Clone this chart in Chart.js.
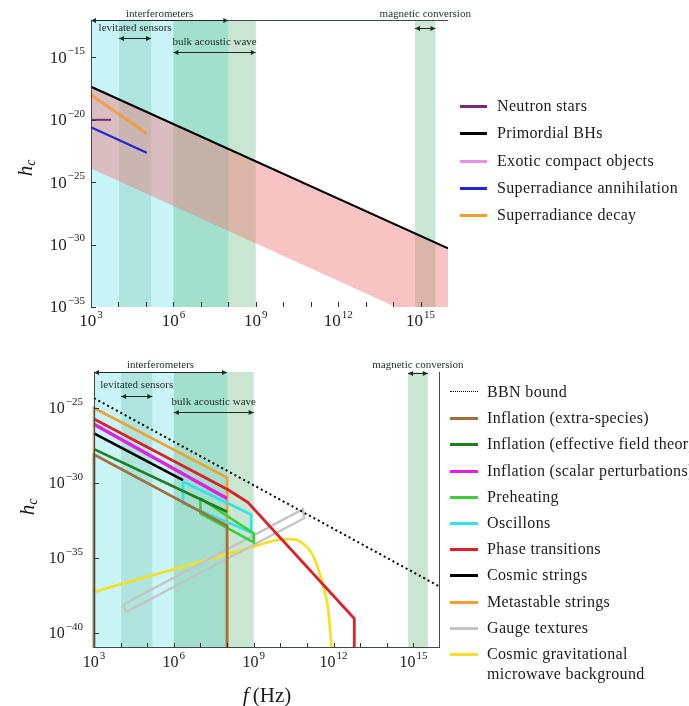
<!DOCTYPE html>
<html>
<head>
<meta charset="utf-8">
<script src="https://cdn.jsdelivr.net/npm/chart.js@4.4.1/dist/chart.umd.min.js"></script>
<style>
  html, body { margin: 0; padding: 0; background: #fff; width: 689px; height: 706px; overflow: hidden; position: relative; }
  body { font-family: "Liberation Serif", "DejaVu Serif", serif; color: #1a1a1a; }
  .panel { position: absolute; left: 0; width: 689px; }
  #panelTop { top: 0; height: 340px; }
  #panelBot { top: 340px; height: 366px; }
  canvas { display: block; position: absolute; left: 0; top: 0; }
  .legend { position: absolute; left: 0; top: 0; width: 689px; height: 100%; pointer-events: none; }
  .item { position: absolute; left: 0; width: 689px; height: 20px; }
  .sw { position: absolute; top: 9px; height: 3px; }
  .tx { position: absolute; top: 0; line-height: 20px; font-size: 16px; letter-spacing: 0.35px; white-space: pre; }
  .ytitle { position: absolute; font-size: 21px; transform: translate(-50%, -50%) rotate(-90deg); white-space: nowrap; }
  .ytitle sub { font-size: 14px; font-style: italic; vertical-align: -3px; }
  .xtitle { position: absolute; font-size: 21px; transform: translate(-50%, -50%); white-space: nowrap; }
</style>
</head>
<body>
<div class="panel" id="panelTop">
  <canvas id="chartTop" width="689" height="340"></canvas>
  <div class="legend" id="legendTop"></div>
  <div class="ytitle" style="left:26px; top:168px;"><i>h</i><sub>c</sub></div>
</div>
<div class="panel" id="panelBot">
  <canvas id="chartBot" width="689" height="366"></canvas>
  <div class="legend" id="legendBot"></div>
  <div class="ytitle" style="left:28px; top:167px;"><i>h</i><sub>c</sub></div>
  <div class="xtitle" style="left:267px; top:355px;"><i>f</i>&#8201;(Hz)</div>
</div>

<script>
// ---------- detector frequency bands (Hz) ----------
const bandNames = ['interferometers', 'levitated sensors', 'bulk acoustic wave', 'magnetic conversion'];
const bandFrom  = [1e3, 1.05e4, 1e6, 6.3e14];
const bandTo    = [1e8, 1.55e5, 1e9, 3.5e15];
const bandFill  = ['rgb(201,245,248)', 'rgba(121,195,168,0.32)', 'rgba(72,172,105,0.30)', 'rgba(72,172,105,0.30)'];

// ---------- axis ticks (powers of ten) ----------
const xTickExponents    = [3, 4, 5, 6, 7, 8, 9, 10, 11, 12, 13, 14, 15, 16];
const xLabelExponents   = [3, 6, 9, 12, 15];
const yTopTickExponents = [-35, -30, -25, -20, -15];
const yBotTickExponents = [-40, -35, -30, -25];

// ---------- upper panel: compact-object sources, [f (Hz), h_c] ----------
const neutronStars              = [[1e3, 1e-20], [5.4e3, 1e-20]];
const primordialBHs             = [[1e3, 4.5e-18], [1e16, 5e-31]];
const primordialBHsFloor        = [[1e3, 1.25e-24], [1e16, 1.25e-37]];
const exoticCompactObjects      = [];
const superradianceAnnihilation = [[1e3, 2.5e-21], [1.07e5, 2.3e-23]];
const superradianceDecay        = [[1e3, 1e-18], [1.07e5, 8e-22]];

// ---------- lower panel: cosmological sources, [f (Hz), h_c] ----------
const bbnBound          = [[1e3, 4.5e-25], [1e16, 1.2e-37]];
const inflationExtra    = [[1e3, 1e-41], [1e3, 7.9e-29], [1e8, 1.4e-33], [1e8, 1e-41]];
const inflationEFT      = [[1e3, 1.8e-28], [1e8, 1.2e-32]];
const inflationScalar   = [[1e3, 8.1e-27], [1e8, 9.3e-32]];
const preheating        = [[1e7, 9.3e-32], [1e9, 4.3e-34], [1e9, 1.1e-34], [1e7, 9.3e-33], [1e7, 9.3e-32]];
const oscillons         = [[2.2e6, 1.2e-30], [8e8, 7.9e-33], [8e8, 5e-34], [2.2e6, 4.5e-32], [2.2e6, 1.2e-30]];
const phaseTransitions  = [[1e3, 1.86e-26], [1.05e8, 3.7e-31], [6e8, 5.2e-32], [6e12, 9.3e-40], [6e12, 1e-41]];
const cosmicStrings     = [[1e3, 2e-27], [2.2e6, 1.55e-30]];
const metastableStrings = [[1e3, 1e-41], [1e3, 1e-25], [1e8, 2.3e-30], [1e8, 1e-41]];
const gaugeTextures     = [[1.26e4, 7.9e-39], [7.1e10, 1.78e-32], [7.9e10, 4.5e-33], [1.58e4, 2.5e-39], [1.26e4, 7.9e-39]];
const cgmb              = [[1e3, 5.5e-38], [1e9, 5.8e-35], [7.9e9, 1.6e-34], [2e10, 1.8e-34], [4.1e10, 1.6e-34],
                           [8.9e10, 6.3e-35], [1.58e11, 1.8e-35], [2.5e11, 2.5e-36], [4.17e11, 1.2e-37],
                           [6.3e11, 3.4e-39], [8.5e11, 1e-41]];

const SERIF = '"Liberation Serif", "DejaVu Serif", serif';
const toXY = pts => pts.map(p => ({ x: p[0], y: p[1] }));
const expText = e => String(e).replace('-', '\u2212');

const topSeries = [
  { label: 'Neutron stars',              color: '#7b2a7b', data: neutronStars,              width: 2 },
  { label: 'Primordial BHs',             color: '#000000', data: primordialBHs,             width: 2.2 },
  { label: 'Exotic compact objects',     color: '#ee8ee8', data: exoticCompactObjects,      width: 2 },
  { label: 'Superradiance annihilation', color: '#2424d8', data: superradianceAnnihilation, width: 2.2 },
  { label: 'Superradiance decay',        color: '#f09a30', data: superradianceDecay,        width: 3, line: 'rgba(240,154,48,0.8)' }
];

const botSeries = [
  { label: 'BBN bound',                          color: '#000000', data: bbnBound,          width: 2, dash: [2, 3] },
  { label: 'Inflation (extra-species)',          color: '#a0703c', data: inflationExtra,    width: 2.6 },
  { label: 'Inflation (effective field theory)', color: '#1e7d1e', data: inflationEFT,      width: 2.6 },
  { label: 'Inflation (scalar perturbations)',   color: '#e020e0', data: inflationScalar,   width: 3.4 },
  { label: 'Preheating',                         color: '#3ccf3c', data: preheating,        width: 2.6 },
  { label: 'Oscillons',                          color: '#32e2ea', data: oscillons,         width: 2.6 },
  { label: 'Phase transitions',                  color: '#dc2028', data: phaseTransitions,  width: 2.8 },
  { label: 'Cosmic strings',                     color: '#000000', data: cosmicStrings,     width: 2.6 },
  { label: 'Metastable strings',                 color: '#f0a035', data: metastableStrings, width: 2.6 },
  { label: 'Gauge textures',                     color: '#c4c4c4', data: gaugeTextures,     width: 2.4 },
  { label: 'Cosmic gravitational\nmicrowave background', color: '#f4e02a', data: cgmb,      width: 2.8, smooth: true }
];

// "10" followed by a raised exponent; anchor 'center' or 'right'
function drawPow10(ctx, e, x, y, size, anchor) {
  const base = '10', sup = expText(e);
  const supSize = Math.round(size * 0.66);
  ctx.font = size + 'px ' + SERIF;
  const wb = ctx.measureText(base).width;
  ctx.font = supSize + 'px ' + SERIF;
  const ws = ctx.measureText(sup).width;
  const total = wb + ws + 1;
  const left = anchor === 'center' ? x - total / 2 : x - total;
  ctx.textAlign = 'left';
  ctx.textBaseline = 'middle';
  ctx.font = size + 'px ' + SERIF;
  ctx.fillText(base, left, y);
  ctx.font = supSize + 'px ' + SERIF;
  ctx.fillText(sup, left + wb + 1, y - size * 0.42);
}

// Band shading underneath; arrows, names, frame, tick marks and tick labels above.
function detectorPlugin(opt) {
  return {
    id: 'detectorBands',
    beforeDraw(chart) {
      const { ctx, chartArea: a, scales: { x } } = chart;
      ctx.save();
      bandNames.forEach((n, i) => {
        const x0 = Math.max(a.left, x.getPixelForValue(bandFrom[i]));
        const x1 = Math.min(a.right, x.getPixelForValue(bandTo[i]));
        ctx.fillStyle = bandFill[i];
        ctx.fillRect(x0, a.top, x1 - x0, a.bottom - a.top);
      });
      ctx.restore();
    },
    afterDraw(chart) {
      const { ctx, chartArea: a, scales: { x, y } } = chart;
      ctx.save();
      // frame
      ctx.strokeStyle = '#3c4a4a';
      ctx.lineWidth = 1;
      ctx.beginPath();
      opt.frame.forEach(side => {
        if (side === 'left')   { ctx.moveTo(a.left + 0.5, a.top);  ctx.lineTo(a.left + 0.5, a.bottom); }
        if (side === 'right')  { ctx.moveTo(a.right - 0.5, a.top); ctx.lineTo(a.right - 0.5, a.bottom); }
        if (side === 'top')    { ctx.moveTo(a.left, a.top + 0.5);  ctx.lineTo(a.right, a.top + 0.5); }
        if (side === 'bottom') { ctx.moveTo(a.left, a.bottom - 0.5); ctx.lineTo(a.right, a.bottom - 0.5); }
      });
      ctx.stroke();
      // inward tick marks
      ctx.strokeStyle = '#333';
      ctx.beginPath();
      xTickExponents.forEach(e => {
        const px = Math.round(x.getPixelForValue(Math.pow(10, e))) + 0.5;
        if (px > a.left + 2 && px < a.right - 2) { ctx.moveTo(px, a.bottom); ctx.lineTo(px, a.bottom - 5); }
      });
      opt.yTicks.forEach(e => {
        const py = Math.round(y.getPixelForValue(Math.pow(10, e))) + 0.5;
        ctx.moveTo(a.left, py); ctx.lineTo(a.left + 5, py);
      });
      ctx.stroke();
      // tick labels
      ctx.fillStyle = '#222';
      xLabelExponents.forEach(e => {
        drawPow10(ctx, e, x.getPixelForValue(Math.pow(10, e)), a.bottom + opt.xLabelDy, opt.tickSize, 'center');
      });
      opt.yTicks.forEach(e => {
        drawPow10(ctx, e, a.left - opt.yPad, y.getPixelForValue(Math.pow(10, e)) + 1, opt.tickSize, 'right');
      });
      // band arrows and names
      ctx.fillStyle = '#1e2a2a';
      ctx.strokeStyle = '#1e2a2a';
      ctx.font = '11px ' + SERIF;
      ctx.textAlign = 'center';
      ctx.textBaseline = 'middle';
      bandNames.forEach((n, i) => {
        const x0 = x.getPixelForValue(bandFrom[i]);
        const x1 = x.getPixelForValue(bandTo[i]);
        const ya = Math.round(a.top + opt.arrowDy[i]) + 0.5;
        ctx.beginPath();
        ctx.moveTo(x0, ya); ctx.lineTo(x1, ya);
        ctx.stroke();
        [[x0, 1], [x1, -1]].forEach(([px, d]) => {
          ctx.beginPath();
          ctx.moveTo(px, ya);
          ctx.lineTo(px + d * 5, ya - 2.5);
          ctx.lineTo(px + d * 5, ya + 2.5);
          ctx.closePath();
          ctx.fill();
        });
        const xc = x.getPixelForValue(Math.sqrt(bandFrom[i] * bandTo[i]));
        ctx.fillText(n, xc, a.top + opt.labelDy[i]);
      });
      ctx.restore();
    }
  };
}

function makeChart(id, series, opt) {
  const datasets = series.map(s => ({
    label: s.label,
    data: toXY(s.data),
    borderColor: s.line || s.color,
    borderWidth: s.width,
    borderDash: s.dash || [],
    fill: false,
    pointRadius: 0,
    cubicInterpolationMode: s.smooth ? 'monotone' : 'default',
    clip: { left: 3, top: 0, right: 0, bottom: 0 },
    order: 1
  }));
  (opt.extra || []).forEach(d => datasets.push(d));
  return new Chart(document.getElementById(id), {
    type: 'line',
    data: { datasets },
    options: {
      responsive: false,
      animation: false,
      devicePixelRatio: 1,
      events: [],
      layout: { padding: opt.padding },
      plugins: {
        legend: { display: false },
        tooltip: { enabled: false },
        filler: { drawTime: 'beforeDatasetsDraw' }
      },
      elements: { line: { tension: 0, borderCapStyle: 'butt', borderJoinStyle: 'miter' } },
      scales: {
        x: {
          type: 'logarithmic', position: 'bottom', min: 1e3, max: 1e16,
          afterBuildTicks: s => { s.ticks = xTickExponents.map(e => ({ value: Math.pow(10, e) })); },
          afterFit: s => { s.height = opt.xAxisHeight; },
          grid: { display: false, drawTicks: false },
          border: { display: false },
          ticks: { display: false }
        },
        y: {
          type: 'logarithmic', position: 'left', min: opt.yMin, max: opt.yMax,
          afterBuildTicks: s => { s.ticks = opt.yTicks.map(e => ({ value: Math.pow(10, e) })); },
          afterFit: s => { s.width = opt.yAxisWidth; },
          grid: { display: false, drawTicks: false },
          border: { display: false },
          ticks: { display: false }
        }
      }
    },
    plugins: [detectorPlugin(opt)]
  });
}

// Upper panel: primordial-BH band shaded between its line and the lower envelope
makeChart('chartTop', topSeries, {
  padding: { left: 0, top: 20, right: 241, bottom: 0 },
  yAxisWidth: 91, xAxisHeight: 33, xLabelDy: 15, yPad: 6, tickSize: 17,
  yMin: 1e-35, yMax: 1e-12, yTicks: yTopTickExponents,
  frame: ['left', 'top'],
  arrowDy: [0, 18, 32, 8], labelDy: [-6, 8, 22, -6],
  extra: [{
    label: 'primordial BH envelope',
    data: toXY(primordialBHsFloor),
    borderWidth: 0, pointRadius: 0,
    backgroundColor: 'rgba(238,122,122,0.45)',
    fill: 1, order: 5
  }]
});

makeChart('chartBot', botSeries, {
  padding: { left: 0, top: 32, right: 249, bottom: 0 },
  yAxisWidth: 94, xAxisHeight: 58, xLabelDy: 15, yPad: 11, tickSize: 16,
  yMin: 1e-41, yMax: 2.5e-23, yTicks: yBotTickExponents,
  frame: ['left', 'right', 'bottom'],
  arrowDy: [0, 24, 40, 1], labelDy: [-7, 13, 30, -7]
});

// HTML legends built from the same series lists
function buildLegend(elId, series, o) {
  const el = document.getElementById(elId);
  series.forEach((s, i) => {
    const row = document.createElement('div');
    row.className = 'item';
    row.style.top = (o.y0 + i * o.dy - 10) + 'px';
    const sw = document.createElement('span');
    sw.className = 'sw';
    sw.style.left = o.swLeft + 'px';
    sw.style.width = o.swWidth + 'px';
    if (s.dash) {
      sw.style.height = '0';
      sw.style.top = '9px';
      sw.style.borderTop = '1.5px dotted ' + s.color;
    } else {
      sw.style.background = s.color;
    }
    const tx = document.createElement('span');
    tx.className = 'tx';
    tx.style.left = o.textLeft + 'px';
    tx.textContent = s.label;
    row.appendChild(sw);
    row.appendChild(tx);
    el.appendChild(row);
  });
}
buildLegend('legendTop', topSeries, { y0: 106, dy: 27.25, swLeft: 460, swWidth: 27, textLeft: 497 });
buildLegend('legendBot', botSeries, { y0: 52, dy: 26.2, swLeft: 450, swWidth: 28, textLeft: 487 });
</script>
</body>
</html>
